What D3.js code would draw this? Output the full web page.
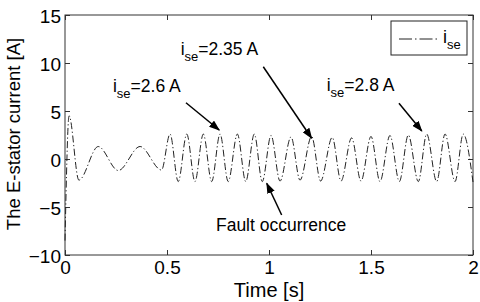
<!DOCTYPE html>
<html>
<head>
<meta charset="utf-8">
<script src="https://cdn.jsdelivr.net/npm/d3@7"></script>
<style>
body { margin: 0; background: #fff; }
svg text { font-family: Arial, "Liberation Sans", sans-serif; fill: #000; }
</style>
</head>
<body>
<svg id="chart" width="480" height="302"></svg>
<script>
// extrema of the stator current trace
const timeS = [0.000, 0.020, 0.068, 0.163, 0.261, 0.368, 0.473,
    0.515, 0.555, 0.597, 0.637, 0.678, 0.719, 0.760, 0.800, 0.845, 0.886, 0.928, 0.967,
    1.010, 1.054, 1.108, 1.152, 1.209, 1.253, 1.310, 1.353, 1.405, 1.451, 1.500, 1.544,
    1.593, 1.639, 1.683, 1.732, 1.773, 1.822, 1.863, 1.912, 1.952, 2.000];
const currentA = [-8.5, 4.5, -2.2, 1.3, -1.2, 1.3, -1.15,
    2.6, -2.35, 2.6, -2.35, 2.6, -2.35, 2.6, -2.35, 2.6, -2.35, 2.6, -2.35,
    2.45, -2.3, 2.3, -2.2, 2.35, -2.3, 2.25, -2.3, 2.2, -2.3, 2.35, -2.35,
    2.45, -2.35, 2.5, -2.35, 2.6, -2.35, 2.6, -2.35, 2.6, -2.4];

const xTicks = [0, 0.5, 1, 1.5, 2];
const yTicks = [-10, -5, 0, 5, 10, 15];

// annotations (data coordinates)
const noteLabels = ["=2.6 A", "=2.35 A", "=2.8 A"];
const noteT = [0.235, 0.567, 1.283];
const noteV = [6.98, 10.83, 7.1];
const arrowFromT = [0.593, 0.972, 1.637, 1.062];
const arrowFromV = [5.86, 9.61, 5.8, -5.83];
const arrowToT = [0.756, 1.209, 1.749, 0.989];
const arrowToV = [3.02, 2.16, 2.92, -2.53];

const margin = {top: 15, right: 7, bottom: 47, left: 65};
const width = 480 - margin.left - margin.right;
const height = 302 - margin.top - margin.bottom;

const svg = d3.select("#chart");
const g = svg.append("g").attr("transform", `translate(${margin.left},${margin.top})`);

const x = d3.scaleLinear().domain([0, 2]).range([0, width]);
const y = d3.scaleLinear().domain([-10, 15]).range([height, 0]);

// arrow head
svg.append("defs").append("marker")
    .attr("id", "head")
    .attr("markerUnits", "userSpaceOnUse")
    .attr("markerWidth", 11).attr("markerHeight", 8)
    .attr("refX", 10).attr("refY", 4)
    .attr("orient", "auto")
    .append("path")
    .attr("d", "M0,0L11,4L0,8Z")
    .attr("fill", "#000");

// axes with inward ticks
const xAx = g.append("g")
    .attr("transform", `translate(0,${height})`)
    .call(d3.axisBottom(x).tickValues(xTicks).tickFormat(d3.format("")).tickSizeInner(-5).tickSizeOuter(0).tickPadding(6));
g.append("g")
    .call(d3.axisTop(x).tickValues(xTicks).tickFormat("").tickSizeInner(-5).tickSizeOuter(0));
const yAx = g.append("g")
    .call(d3.axisLeft(y).tickValues(yTicks).tickSizeInner(-5).tickSizeOuter(0).tickPadding(4));
g.append("g")
    .attr("transform", `translate(${width},0)`)
    .call(d3.axisRight(y).tickValues(yTicks).tickFormat("").tickSizeInner(-5).tickSizeOuter(0));

g.selectAll(".domain").remove();
g.selectAll(".tick line").attr("stroke", "#333");
xAx.selectAll("text").style("font-size", "19px");
yAx.selectAll("text").style("font-size", "19px").attr("dy", "0.38em");

g.append("rect")
    .attr("width", width).attr("height", height)
    .attr("fill", "none").attr("stroke", "#333").attr("stroke-width", 1);

// axis titles
g.append("text")
    .attr("x", width / 2).attr("y", height + 42)
    .attr("text-anchor", "middle")
    .style("font-size", "20px")
    .text("Time [s]");

g.append("text")
    .attr("transform", "rotate(-90)")
    .attr("x", -height / 2 + 1).attr("y", -45)
    .attr("text-anchor", "middle")
    .style("font-size", "18.5px")
    .text("The E-stator current [A]");

// signal
const pts = timeS.map((t, i) => [t, currentA[i]]);
const line = d3.line().x(d => x(d[0])).y(d => y(d[1])).curve(d3.curveMonotoneX);
g.append("path")
    .datum(pts)
    .attr("d", line)
    .attr("fill", "none")
    .attr("stroke", "#222")
    .attr("stroke-width", 1)
    .attr("stroke-dasharray", "7,2.5,1.2,2.5");

// annotation arrows
arrowFromT.forEach((t, i) => {
    g.append("line")
        .attr("x1", x(t)).attr("y1", y(arrowFromV[i]))
        .attr("x2", x(arrowToT[i])).attr("y2", y(arrowToV[i]))
        .attr("stroke", "#000").attr("stroke-width", 1.5)
        .attr("marker-end", "url(#head)");
});

// annotation labels i_se=...
noteLabels.forEach((lab, i) => {
    const tx = g.append("text")
        .attr("x", x(noteT[i])).attr("y", y(noteV[i]))
        .style("font-size", "17.5px");
    tx.append("tspan").text("i");
    tx.append("tspan").attr("dy", 6).style("font-size", "13px").text("se");
    tx.append("tspan").attr("dy", -6).text(lab);
});

g.append("text")
    .attr("x", x(0.74)).attr("y", y(-7.47))
    .style("font-size", "17.5px")
    .text("Fault occurrence");

// legend
const leg = g.append("g").attr("transform", `translate(${width - 82},6)`);
leg.append("rect")
    .attr("width", 76).attr("height", 34)
    .attr("fill", "#fff").attr("stroke", "#222");
leg.append("line")
    .attr("x1", 8).attr("x2", 46).attr("y1", 18).attr("y2", 18)
    .attr("stroke", "#222").attr("stroke-width", 1)
    .attr("stroke-dasharray", "13,3,1.5,3");
const lt = leg.append("text").attr("x", 52).attr("y", 22).style("font-size", "18px");
lt.append("tspan").text("i");
lt.append("tspan").attr("dy", 6).style("font-size", "13px").text("se");
</script>
</body>
</html>
